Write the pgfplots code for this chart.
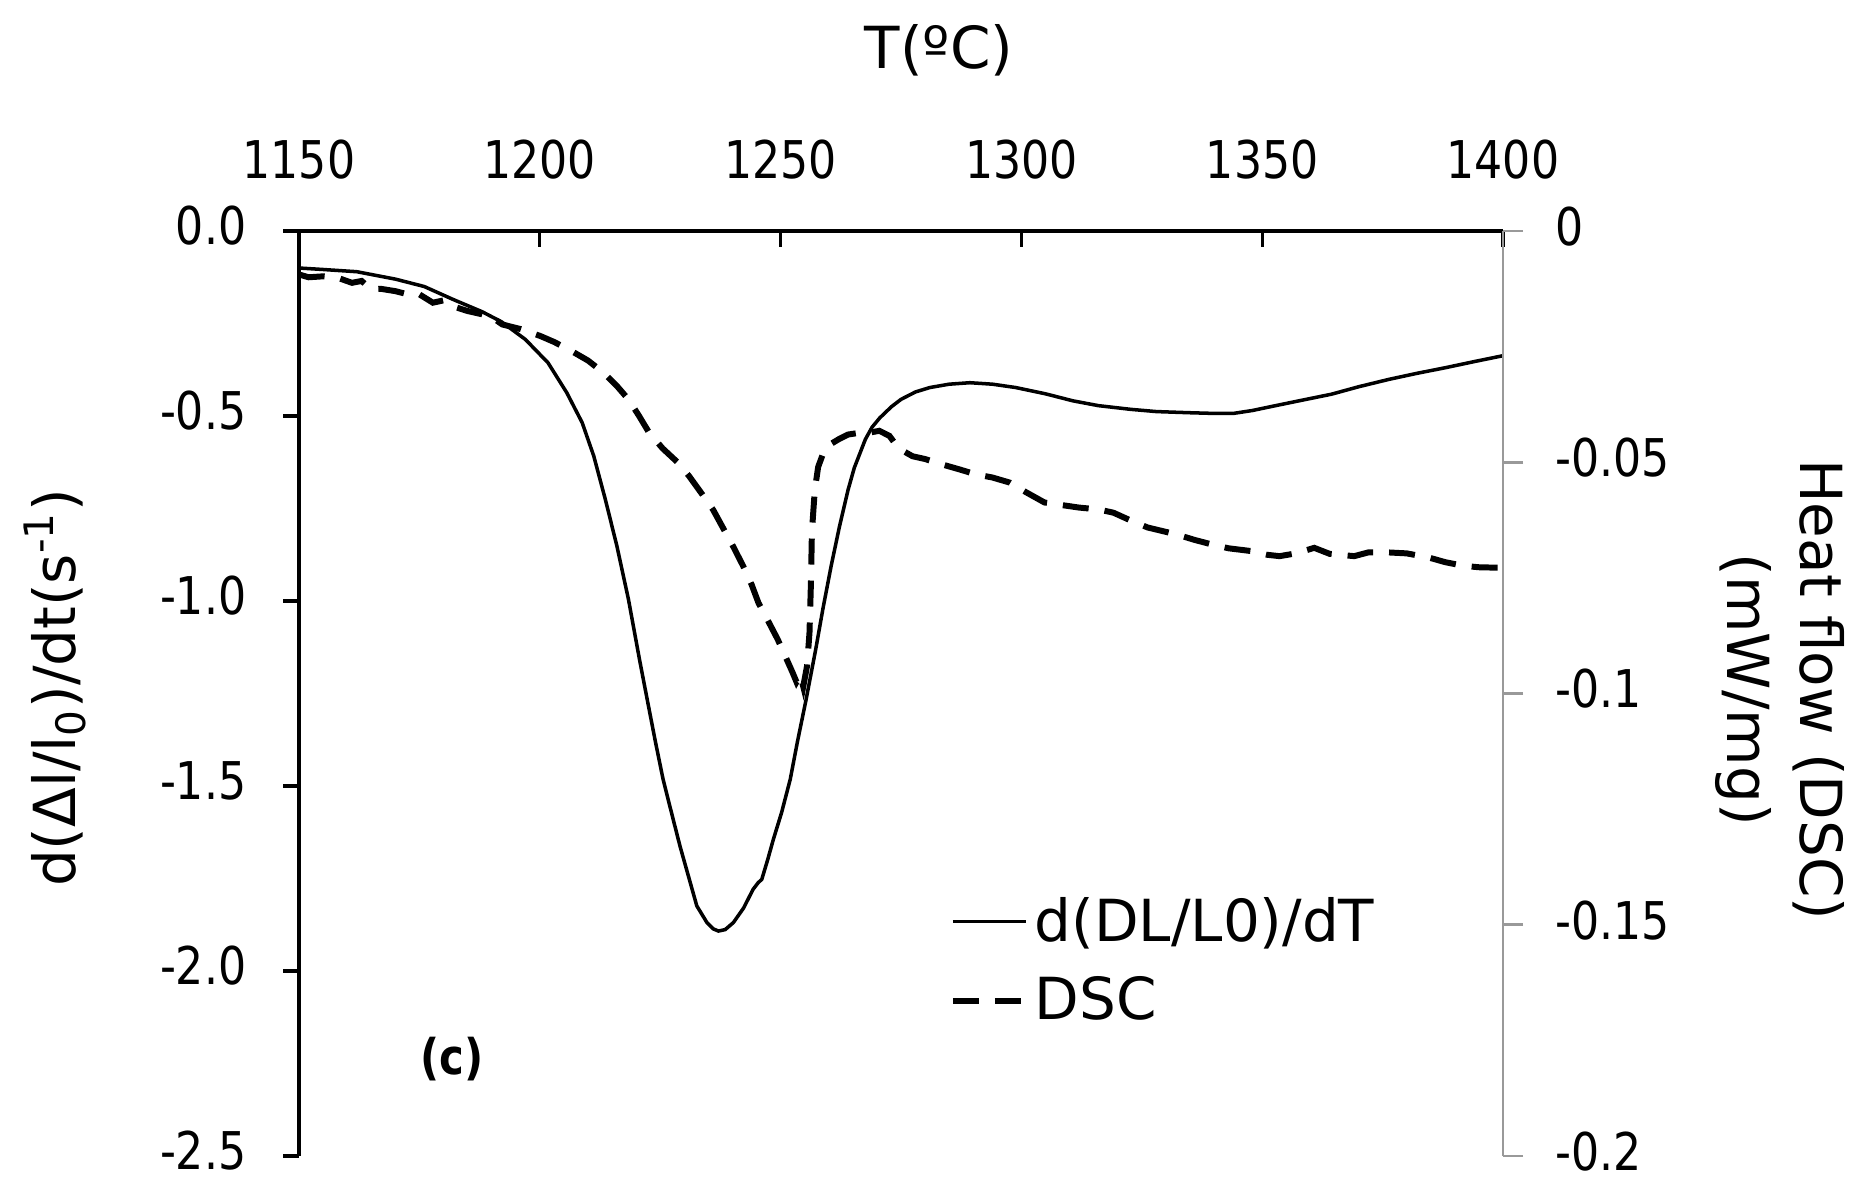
\documentclass[border=0pt]{standalone}
\usepackage{pgfplots}
\pgfplotsset{compat=1.18}
\usepackage{fontspec}
\setmainfont{DejaVu Sans}
\newfontfamily\tickfont{DejaVu Sans}[FakeStretch=0.85]
\newcommand\tf{\tickfont\fontsize{14.8pt}{17pt}\selectfont}
\newcommand\lf{\fontsize{16.5pt}{21pt}\selectfont}

\pgfplotstableread{
T v
1150 -0.100
1155 -0.104
1162 -0.110
1170 -0.130
1176 -0.150
1182 -0.185
1188 -0.218
1192 -0.245
1197 -0.293
1201.7 -0.356
1205.6 -0.437
1208.8 -0.518
1211.2 -0.608
1213.6 -0.725
1216 -0.851
1218.4 -0.995
1220.7 -1.158
1222.3 -1.266
1224 -1.380
1225.6 -1.482
1227.4 -1.575
1229.1 -1.662
1231 -1.750
1232.6 -1.824
1234.7 -1.869
1236 -1.886
1237.1 -1.892
1238.5 -1.888
1240.2 -1.869
1242.3 -1.830
1244.3 -1.779
1245.3 -1.762
1246.1 -1.752
1247.3 -1.700
1248.5 -1.644
1250.2 -1.572
1252 -1.482
1253.5 -1.380
1255.3 -1.266
1257.3 -1.130
1258.8 -1.020
1260.5 -0.905
1262.2 -0.800
1264 -0.700
1265.3 -0.640
1267.6 -0.563
1269 -0.530
1270.6 -0.505
1273 -0.475
1275 -0.455
1278 -0.435
1281 -0.423
1285 -0.414
1289.3 -0.410
1294 -0.414
1298.8 -0.423
1305 -0.440
1310.7 -0.459
1316 -0.472
1322.7 -0.482
1328 -0.488
1334.6 -0.491
1340 -0.493
1344 -0.493
1348 -0.485
1352.4 -0.473
1358 -0.458
1364.4 -0.441
1370 -0.421
1376.3 -0.401
1382 -0.385
1388.2 -0.369
1394 -0.353
1400 -0.337
}\dldt

\pgfplotstableread{
T r
1150 -0.0094
1152 -0.0100
1155 -0.0098
1158 -0.0101
1161 -0.0112
1163 -0.0108
1165 -0.0126
1167 -0.0125
1170 -0.0130
1173 -0.0138
1175 -0.0137
1177.8 -0.0155
1180 -0.0150
1182 -0.0163
1185 -0.0173
1188 -0.0180
1190 -0.0186
1192.2 -0.0202
1196 -0.0212
1200.1 -0.0227
1203 -0.0240
1206.5 -0.0259
1210 -0.0280
1213.2 -0.0306
1216 -0.0335
1218.4 -0.0364
1220.5 -0.0398
1222.7 -0.0436
1225.5 -0.0470
1228.7 -0.0501
1231 -0.0530
1233.5 -0.0566
1236 -0.0603
1238.2 -0.0645
1240.2 -0.0683
1242.2 -0.0724
1244 -0.0765
1245.4 -0.0804
1247.5 -0.0845
1249.4 -0.0883
1251 -0.0920
1252.5 -0.0955
1253.3 -0.0975
1254.1 -0.0960
1254.7 -0.0985
1255.5 -0.0940
1256.0 -0.0868
1256.3 -0.0760
1256.5 -0.0650
1257.1 -0.0560
1257.8 -0.0510
1258.9 -0.0479
1260.5 -0.0460
1262.1 -0.0450
1264 -0.0440
1266 -0.0437
1268.4 -0.0436
1270.5 -0.0432
1272.6 -0.0443
1274.5 -0.0470
1277.4 -0.0487
1280 -0.0493
1283.3 -0.0504
1287 -0.0515
1290.5 -0.0526
1294 -0.0533
1297.6 -0.0544
1301 -0.0565
1304.8 -0.0587
1308 -0.0592
1312 -0.0598
1316 -0.0602
1319.1 -0.0609
1322.5 -0.0625
1326.2 -0.0641
1329 -0.0648
1332.2 -0.0656
1336 -0.0668
1339.3 -0.0677
1343 -0.0686
1347.7 -0.0692
1351 -0.0700
1353.6 -0.0703
1357 -0.0697
1360.8 -0.0685
1364 -0.0698
1369.1 -0.0703
1372 -0.0695
1376.3 -0.0695
1380 -0.0697
1384.6 -0.0706
1388 -0.0716
1391.8 -0.0724
1395 -0.0727
1399 -0.0728
1400 -0.0730
}\dsc

\begin{document}
\begin{tikzpicture}
\useasboundingbox (0,0) rectangle (186mm,118.2mm);
\begin{axis}[
  at={(29.9mm,2.6mm)}, anchor=south west,
  width=120.4mm, height=92.5mm, scale only axis,
  xmin=1150, xmax=1400, ymin=-2.5, ymax=0,
  axis x line*=top, axis y line*=left,
  axis line style={line width=1.1pt, black},
  xtick={1150,1200,1250,1300,1350,1400},
  xticklabels={1150,1200,1250,1300,1350,1400},
  ytick={-2.5,-2,-1.5,-1,-0.5,0},
  yticklabels={-2.5,-2.0,-1.5,-1.0,-0.5,0.0},
  xtick align=inside, ytick align=outside,
  major tick length=1.6mm,
  every tick/.style={black, line width=0.9pt},
  xticklabel style={font=\tf, inner sep=0pt, anchor=base, yshift=5.3mm},
  yticklabel style={font=\tf, inner sep=0pt, anchor=east, xshift=-3.6mm, yshift=0.5mm},
  xlabel={T(ºC)},
  xlabel style={font=\lf, at={(axis description cs:0.5316,1.1957)}, anchor=center},
  ylabel={d(Δl/l\textsubscript{0})/dt(s\textsuperscript{-1})},
  ylabel style={font=\lf, at={(axis description cs:-0.2027,0.506)}, anchor=center},
  clip=true,
]
\addplot[black, line width=1.0pt, no markers] table[x=T, y=v] {\dldt};
\node[font=\tickfont\bfseries\fontsize{14pt}{16pt}\selectfont] at (axis cs:1181.7,-2.239) {(c)};
\end{axis}
\begin{axis}[
  at={(29.9mm,2.6mm)}, anchor=south west,
  width=120.4mm, height=92.5mm, scale only axis,
  xmin=1150, xmax=1400, ymin=-0.2, ymax=0,
  axis x line=none, axis y line*=right,
  y axis line style={line width=0.8pt, black!40},
  ytick={-0.2,-0.15,-0.1,-0.05,0},
  yticklabels={-0.2,-0.15,-0.1,-0.05,0},
  tick align=outside,
  major tick length=2mm,
  every tick/.style={black!40, line width=0.8pt},
  yticklabel style={font=\tf, inner sep=0pt, anchor=west, xshift=3.2mm, yshift=0.45mm},
  ylabel={Heat flow (DSC)\\(mW/mg)},
  ylabel style={font=\lf, align=center, rotate=180, at={(axis description cs:1.230,0.504)}, anchor=center},
  legend style={at={(axis description cs:0.5400,0.211)}, anchor=west, draw=none, fill=none,
    font=\lf, inner sep=0pt, row sep=1.8mm, nodes={inner sep=0.6mm}},
  legend cell align=left,
  legend image code/.code={\draw[#1] (0mm,0mm) -- (7.3mm,0mm);},
]
\addlegendimage{black, line width=1.0pt}
\addlegendentry{d(DL/L0)/dT}
\addplot[black, line width=1.7pt, dash pattern=on 2.6mm off 1.6mm, no markers] table[x=T, y=r] {\dsc};
\addlegendentry{DSC}
\end{axis}
\end{tikzpicture}
\end{document}
